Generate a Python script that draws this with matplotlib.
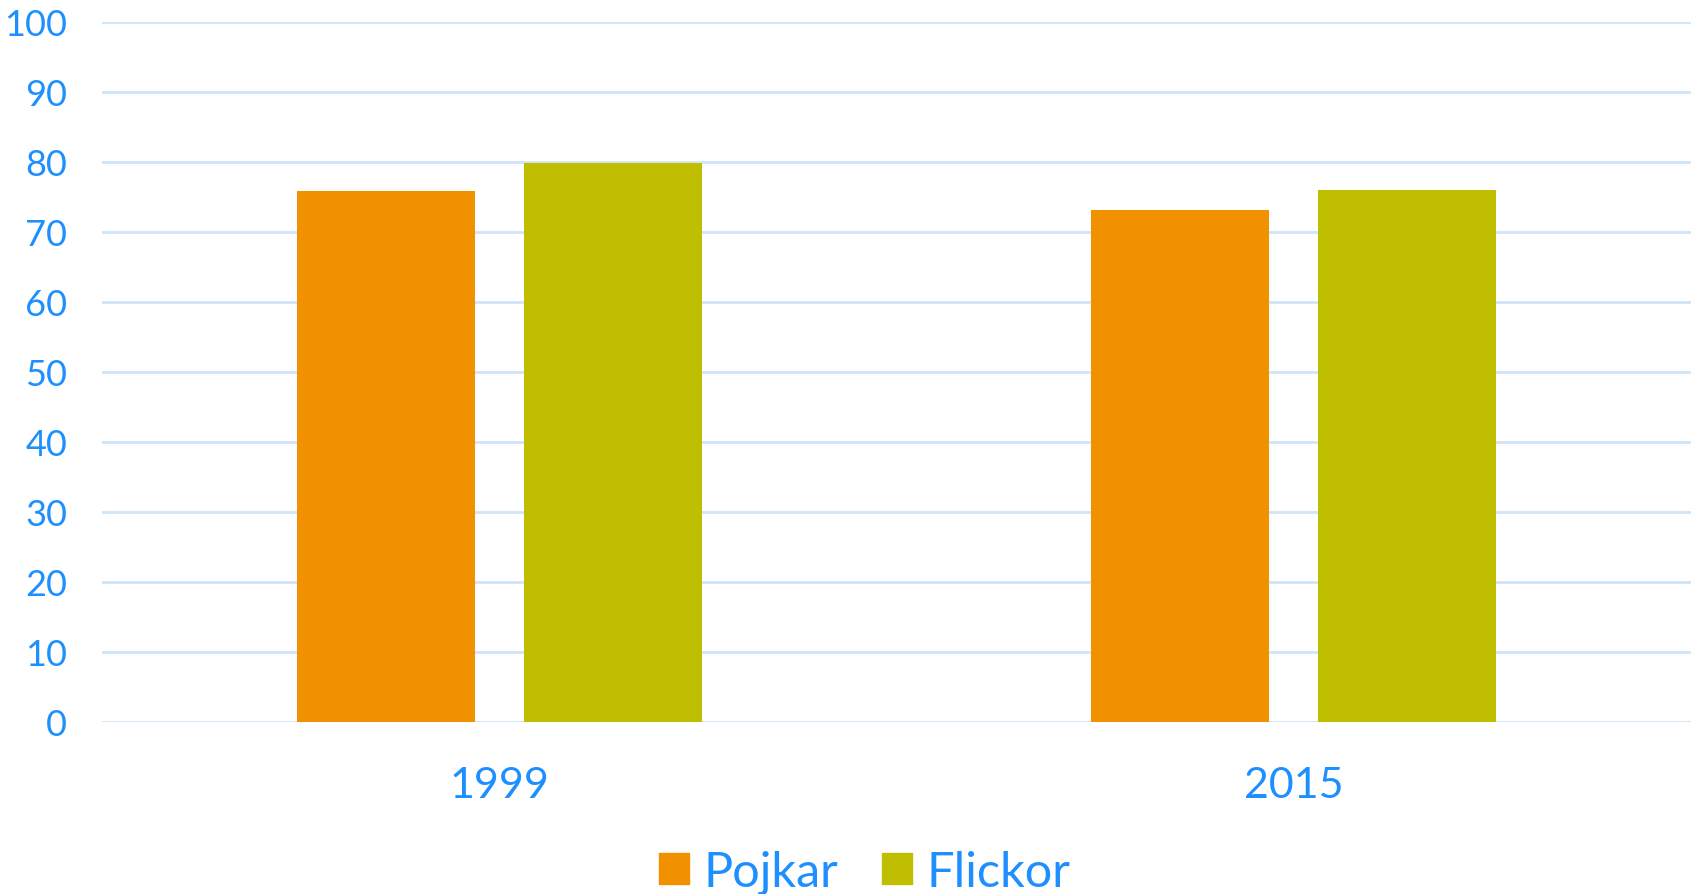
import matplotlib
matplotlib.use("Agg")
import matplotlib.pyplot as plt
import numpy as np
from matplotlib.patches import Patch

# Data
years = ["1999", "2015"]
pojkar = [75.8, 73.1]
flickor = [79.8, 76.0]

TEXT_COLOR = "#1E8FFF"
GRID_COLOR = "#CFE5F8"
ORANGE = "#F29100"
OLIVE = "#BFBE00"

plt.rcParams['font.family'] = ['Lato', 'DejaVu Sans']

fig = plt.figure(figsize=(16.96, 8.95), dpi=100)
ax = fig.add_axes([102 / 1696, (895 - 723) / 895, (1691 - 102) / 1696, 700 / 895])

x = np.arange(len(years))
width = 0.224
offset = 0.143

ax.bar(x - offset, pojkar, width, color=ORANGE, zorder=3, label="Pojkar")
ax.bar(x + offset, flickor, width, color=OLIVE, zorder=3, label="Flickor")

ax.set_xlim(-0.5, 1.5)
ax.set_ylim(0, 100)
ax.set_yticks(range(0, 101, 10))
ax.set_xticks(x)
ax.set_xticklabels(years)

ax.yaxis.grid(True, color=GRID_COLOR, lw=2, zorder=0)
ax.set_axisbelow(True)
for s in ax.spines.values():
    s.set_visible(False)

ax.tick_params(axis='y', length=0, pad=25, labelsize=26, labelcolor=TEXT_COLOR)
ax.tick_params(axis='x', length=0, pad=32, labelsize=31, labelcolor=TEXT_COLOR)

handles = [Patch(color=ORANGE, label="Pojkar"), Patch(color=OLIVE, label="Flickor")]
fig.legend(handles=handles, loc='center', bbox_to_anchor=(0.51, 1 - 873 / 895), ncol=2,
           frameon=False, fontsize=35, labelcolor=TEXT_COLOR, handlelength=0.62,
           handleheight=0.62, handletextpad=0.3, columnspacing=0.9)

fig.savefig("out.png", dpi=100)
